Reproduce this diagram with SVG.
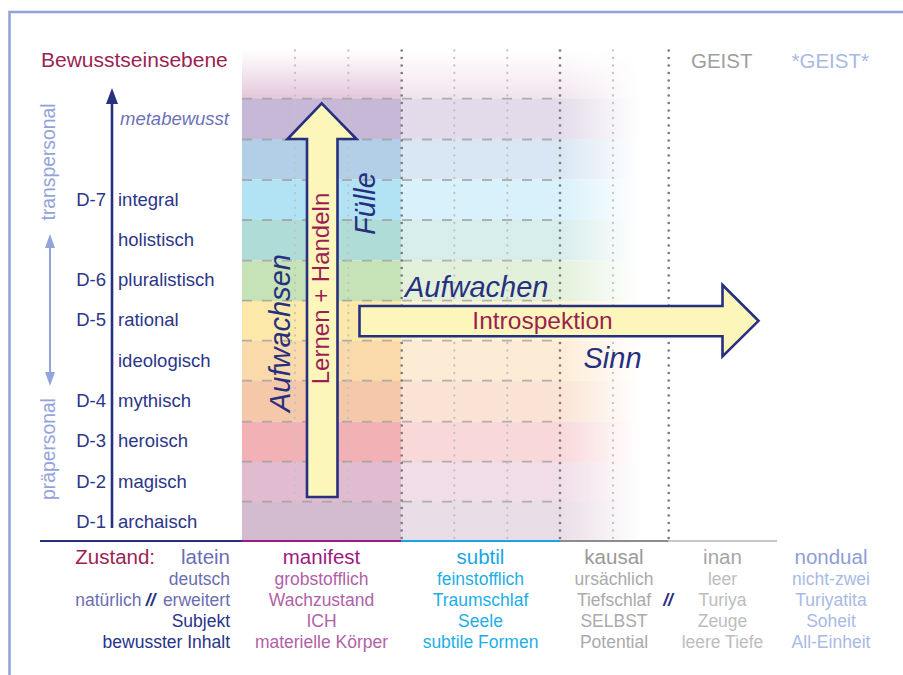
<svg xmlns="http://www.w3.org/2000/svg" width="903" height="675" viewBox="0 0 903 675">
<style>
text{font-family:"Liberation Sans",Arial,Helvetica,sans-serif}
.lvl{font-size:18.5px;fill:#2b3689}
.it{font-style:italic}
.big{font-size:29px;font-style:italic;fill:#27307f}
.r1{font-size:20.5px}
.r{font-size:17.5px}
.mid{text-anchor:middle}
.end{text-anchor:end}
.dl{fill:none;stroke:#c3c3c3;stroke-width:2.3;stroke-linecap:round;stroke-dasharray:0 7.5}
.dd{fill:none;stroke:#7c7c7c;stroke-width:2.7;stroke-linecap:round;stroke-dasharray:0 7.5}
.hd{stroke:#9c9c9c;stroke-opacity:0.75;stroke-width:1.8;stroke-dasharray:10 10}
.arr{fill:#fdf6bb;stroke:#27307f;stroke-width:2.6;stroke-linejoin:miter}
</style>
<defs>
<linearGradient id="hm" gradientUnits="userSpaceOnUse" x1="242" y1="0" x2="640" y2="0">
<stop offset="0" stop-color="#fff" stop-opacity="1"/>
<stop offset="0.3995" stop-color="#fff" stop-opacity="1"/>
<stop offset="0.3995" stop-color="#fff" stop-opacity="0.5"/>
<stop offset="0.799" stop-color="#fff" stop-opacity="0.5"/>
<stop offset="1" stop-color="#fff" stop-opacity="0"/>
</linearGradient>
<mask id="bandMask" maskUnits="userSpaceOnUse" x="242" y="40" width="420" height="510">
<rect x="242" y="40" width="420" height="510" fill="url(#hm)"/>
</mask>
<linearGradient id="topfade" x1="0" y1="0" x2="0" y2="1">
<stop offset="0" stop-color="#e6c9dd" stop-opacity="0"/>
<stop offset="1" stop-color="#e3c6da" stop-opacity="1"/>
</linearGradient>
</defs>
<rect x="0" y="0" width="903" height="675" fill="#fff"/>
<rect x="9.5" y="12" width="920" height="700" fill="none" stroke="#94a4db" stroke-width="2.6"/>

<g id="bands">
<g mask="url(#bandMask)">
<g id="bandfill">
<rect x="242" y="50" width="420" height="49" fill="url(#topfade)"/>
<rect x="242" y="98.7" width="420" height="40.5" fill="#c8b8d7"/>
<rect x="242" y="139" width="420" height="40.5" fill="#b2cfe7"/>
<rect x="242" y="179.5" width="420" height="40.5" fill="#b2e3f5"/>
<rect x="242" y="220" width="420" height="40.5" fill="#b0dcd8"/>
<rect x="242" y="260.5" width="420" height="40.5" fill="#c6e2b7"/>
<rect x="242" y="301" width="420" height="40" fill="#fce9aa"/>
<rect x="242" y="341" width="420" height="40" fill="#fad9ab"/>
<rect x="242" y="381" width="420" height="40.5" fill="#f6c8aa"/>
<rect x="242" y="421.5" width="420" height="40.5" fill="#f2b1b4"/>
<rect x="242" y="462" width="420" height="40" fill="#e1bcd0"/>
<rect x="242" y="502" width="420" height="39" fill="#d3bccf"/>
</g>
</g>
<g id="dashes">
<line class="hd" x1="242" y1="98.7" x2="560" y2="98.7"/>
<line class="hd" x1="242" y1="139.5" x2="560" y2="139.5"/>
<line class="hd" x1="242" y1="180" x2="560" y2="180"/>
<line class="hd" x1="242" y1="220" x2="560" y2="220"/>
<line class="hd" x1="242" y1="260.7" x2="560" y2="260.7"/>
<line class="hd" x1="242" y1="300.7" x2="560" y2="300.7"/>
<line class="hd" x1="242" y1="340.7" x2="560" y2="340.7"/>
<line class="hd" x1="242" y1="380.7" x2="560" y2="380.7"/>
<line class="hd" x1="242" y1="421.7" x2="560" y2="421.7"/>
<line class="hd" x1="242" y1="461.7" x2="560" y2="461.7"/>
<line class="hd" x1="242" y1="501.7" x2="560" y2="501.7"/>
</g>
<g id="dots">
<line class="dl" x1="295" y1="50.5" x2="295" y2="540"/>
<line class="dl" x1="348.3" y1="50.5" x2="348.3" y2="540"/>
<line class="dd" x1="401.7" y1="50.5" x2="401.7" y2="540"/>
<line class="dl" x1="454.3" y1="50.5" x2="454.3" y2="540"/>
<line class="dl" x1="507.3" y1="50.5" x2="507.3" y2="540"/>
<line class="dd" x1="560" y1="50.5" x2="560" y2="540"/>
<line class="dl" x1="613" y1="50.5" x2="613" y2="540"/>
<line class="dd" x1="668.7" y1="50.5" x2="668.7" y2="540"/>
</g>
</g>

<g id="baseline">
<line x1="40" y1="541" x2="242" y2="541" stroke="#27307f" stroke-width="2.2"/>
<line x1="242" y1="541" x2="401.7" y2="541" stroke="#9c1b7f" stroke-width="2.2"/>
<line x1="401.7" y1="541" x2="560" y2="541" stroke="#17a6e2" stroke-width="2.2"/>
<line x1="560" y1="541" x2="668.7" y2="541" stroke="#8c8c8c" stroke-width="2.2"/>
<line x1="668.7" y1="541" x2="777" y2="541" stroke="#c8c8c8" stroke-width="2.2"/>
</g>

<g id="title">
<text x="41" y="66.7" style="font-size:21px;fill:#9b1f55">Bewusstseinsebene</text>
<text x="691" y="68" style="font-size:20.5px;fill:#9e9e9e">GEIST</text>
<text x="791.5" y="68" style="font-size:20.5px;fill:#a9b9e6">*GEIST*</text>
</g>

<g id="axis">
<line x1="112" y1="100" x2="112" y2="528" stroke="#27307f" stroke-width="2.6"/>
<polygon points="112,88 106,104 118,104" fill="#27307f"/>
</g>

<g id="personal">
<text transform="translate(55,162) rotate(-90)" class="mid" style="font-size:19.3px;fill:#94a4db">transpersonal</text>
<text transform="translate(55,449) rotate(-90)" class="mid" style="font-size:19.3px;fill:#94a4db">präpersonal</text>
<line x1="50" y1="246" x2="50" y2="374" stroke="#94a4db" stroke-width="2"/>
<polygon points="50,234 45,248 55,248" fill="#94a4db"/>
<polygon points="50,386 45,372 55,372" fill="#94a4db"/>
</g>

<g id="levels">
<text x="120" y="124.5" class="lvl it" style="fill:#6e70b8">metabewusst</text>
<text x="106" y="205.5" class="lvl end">D-7</text><text x="118" y="205.5" class="lvl">integral</text>
<text x="118" y="245.8" class="lvl">holistisch</text>
<text x="106" y="286" class="lvl end">D-6</text><text x="118" y="286" class="lvl">pluralistisch</text>
<text x="106" y="326.3" class="lvl end">D-5</text><text x="118" y="326.3" class="lvl">rational</text>
<text x="118" y="366.6" class="lvl">ideologisch</text>
<text x="106" y="406.9" class="lvl end">D-4</text><text x="118" y="406.9" class="lvl">mythisch</text>
<text x="106" y="447.2" class="lvl end">D-3</text><text x="118" y="447.2" class="lvl">heroisch</text>
<text x="106" y="487.5" class="lvl end">D-2</text><text x="118" y="487.5" class="lvl">magisch</text>
<text x="106" y="527.8" class="lvl end">D-1</text><text x="118" y="527.8" class="lvl">archaisch</text>
</g>

<g id="arrow-up">
<path class="arr" d="M307,497 L307,139 L287.5,139 L321.7,103.3 L356.5,139 L337.5,139 L337.5,497 Z"/>
<text transform="translate(329,288.5) rotate(-90)" class="mid" style="font-size:24px;fill:#9b1f55">Lernen + Handeln</text>
<text transform="translate(290,333) rotate(-90)" class="big mid">Aufwachsen</text>
<text transform="translate(375,203.5) rotate(-90)" class="big mid">Fülle</text>
</g>

<g id="arrow-right">
<path class="arr" d="M359.5,306 L722.5,306 L722.5,285 L758.5,320.8 L722.5,356.5 L722.5,336.3 L359.5,336.3 Z"/>
<text x="542.5" y="328.5" class="mid" style="font-size:24.5px;fill:#9b1f55">Introspektion</text>
<text x="405" y="296.5" class="big">Aufwachen</text>
<text x="583.5" y="368.3" class="big">Sinn</text>
</g>

<g id="state-labels">
<text x="75.3" y="563.7" class="r1" style="fill:#9b1f55">Zustand:</text>
<text x="230" y="563.7" class="r1 end" style="fill:#6c6db2">latein</text>
<text x="230" y="585" class="r end" style="fill:#6c6db2">deutsch</text>
<text x="75.3" y="606" class="r" style="fill:#6c6db2">natürlich</text>
<text x="150.5" y="606" class="r mid" style="fill:#27307f;font-weight:bold;font-style:italic">//</text>
<text x="230" y="606" class="r end" style="fill:#6c6db2">erweitert</text>
<text x="230" y="627.3" class="r end" style="fill:#27348a">Subjekt</text>
<text x="230" y="648.3" class="r end" style="fill:#27348a">bewusster Inhalt</text>
</g>

<g id="state-manifest">
<text x="321.5" y="563.7" class="r1 mid" style="fill:#9c1b7f">manifest</text>
<text x="321.5" y="585" class="r mid" style="fill:#b161a8">grobstofflich</text>
<text x="321.5" y="606" class="r mid" style="fill:#b161a8">Wachzustand</text>
<text x="321.5" y="627.3" class="r mid" style="fill:#b161a8">ICH</text>
<text x="321.5" y="648.3" class="r mid" style="fill:#b161a8">materielle Körper</text>
</g>

<g id="state-subtil">
<text x="480.5" y="563.7" class="r1 mid" style="fill:#17a6e2">subtil</text>
<text x="480.5" y="585" class="r mid" style="fill:#1eaee6">feinstofflich</text>
<text x="480.5" y="606" class="r mid" style="fill:#1eaee6">Traumschlaf</text>
<text x="480.5" y="627.3" class="r mid" style="fill:#1eaee6">Seele</text>
<text x="480.5" y="648.3" class="r mid" style="fill:#1eaee6">subtile Formen</text>
</g>

<g id="state-kausal">
<text x="614" y="563.7" class="r1 mid" style="fill:#999">kausal</text>
<text x="614" y="585" class="r mid" style="fill:#aaa">ursächlich</text>
<text x="614" y="606" class="r mid" style="fill:#aaa">Tiefschlaf</text>
<text x="614" y="627.3" class="r mid" style="fill:#aaa">SELBST</text>
<text x="614" y="648.3" class="r mid" style="fill:#aaa">Potential</text>
</g>

<text x="668" y="606" class="r mid" style="fill:#27307f;font-weight:bold;font-style:italic">//</text>

<g id="state-inan">
<text x="722.5" y="563.7" class="r1 mid" style="fill:#a6a6a6">inan</text>
<text x="722.5" y="585" class="r mid" style="fill:#bdbdbd">leer</text>
<text x="722.5" y="606" class="r mid" style="fill:#bdbdbd">Turiya</text>
<text x="722.5" y="627.3" class="r mid" style="fill:#bdbdbd">Zeuge</text>
<text x="722.5" y="648.3" class="r mid" style="fill:#bdbdbd">leere Tiefe</text>
</g>

<g id="state-nondual">
<text x="831" y="563.7" class="r1 mid" style="fill:#8e9dd6">nondual</text>
<text x="831" y="585" class="r mid" style="fill:#a9b9e6">nicht-zwei</text>
<text x="831" y="606" class="r mid" style="fill:#a9b9e6">Turiyatita</text>
<text x="831" y="627.3" class="r mid" style="fill:#a9b9e6">Soheit</text>
<text x="831" y="648.3" class="r mid" style="fill:#a9b9e6">All-Einheit</text>
</g>
</svg>
